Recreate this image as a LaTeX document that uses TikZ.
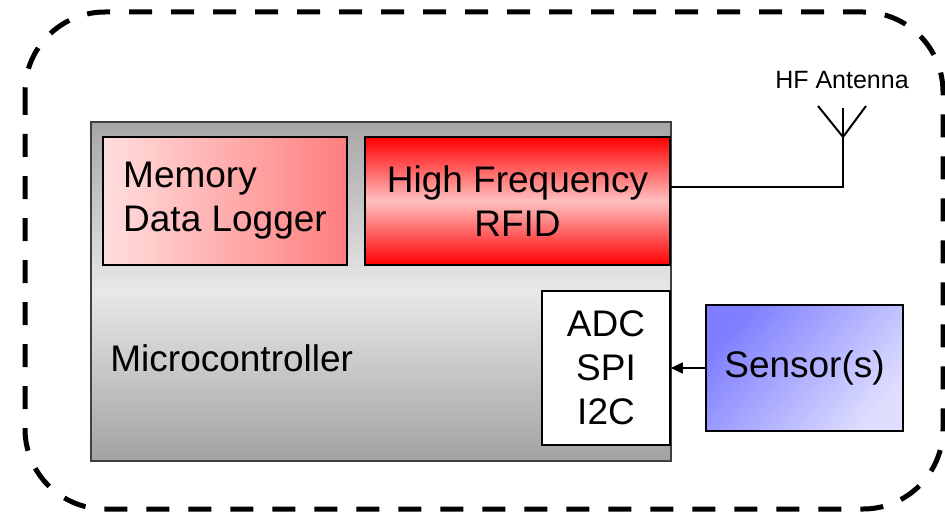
\documentclass[tikz,border=0pt]{standalone}
\usepackage{fontspec}
\setmainfont{Liberation Sans}
\usepackage{xcolor}
\usetikzlibrary{arrows.meta}
\definecolor{mcutop}{RGB}{166,166,166}
\definecolor{mcumid}{RGB}{232,232,232}
\definecolor{mcubot}{RGB}{162,162,162}
\definecolor{memleft}{RGB}{255,222,222}
\definecolor{memright}{RGB}{255,126,126}
\definecolor{rfidmid}{RGB}{255,192,192}
\definecolor{senstop}{RGB}{126,126,255}
\definecolor{sensbot}{RGB}{222,222,255}
\tikzset{
  txt/.style={inner sep=0pt, font=\fontsize{18.5}{22}\selectfont},
  blk/.style={txt, draw=black, line width=0.8pt},
}

\begin{document}
\begin{tikzpicture}[x=0.5pt,y=-0.5pt]
\useasboundingbox (0,0) rectangle (945,513);
\draw[line width=2.5pt, dash pattern=on 11.5pt off 9.5pt, rounded corners=40pt] (25,12) rectangle (943,509);
\node[blk, draw=black!75, minimum width=290pt, minimum height=169.5pt, top color=mcutop, bottom color=mcubot, middle color=mcumid] (mcu) at (381,291.5) {};
\node[txt, anchor=west] (mculabel) at (110,358) {Microcontroller};
\node[blk, minimum width=122pt, minimum height=64pt, align=left, left color=memleft, right color=memright] (mem) at (225,201) {Memory\\Data Logger};
\node[blk, minimum width=152.5pt, minimum height=64pt, align=center, top color=red, bottom color=red, middle color=rfidmid] (rfid) at (517.5,201) {High Frequency\\RFID};
\node[blk, fill=white, minimum width=64pt, minimum height=77pt, align=center] (adc) at (606,368) {ADC\\SPI\\I2C};
\node[blk, minimum width=98.5pt, minimum height=63pt, top color=senstop, bottom color=sensbot, shading angle=50] (sens) at (804.5,368) {Sensor(s)};
\draw[line width=0.8pt, -{Triangle[length=6pt,width=5.5pt]}] (sens.west) -- (adc.east);
\coordinate (ant) at (843,137);
\draw[line width=1pt] ([yshift=7pt]rfid.east) -| (ant) -- ++(0,-29);
\draw[line width=1pt] (ant) -- ++(-25,-31);
\draw[line width=1pt] (ant) -- ++(23,-31);
\node[font=\fontsize{12.5}{15}\selectfont, inner sep=0pt] (antlabel) at (842,80) {HF Antenna};
\end{tikzpicture}
\end{document}
